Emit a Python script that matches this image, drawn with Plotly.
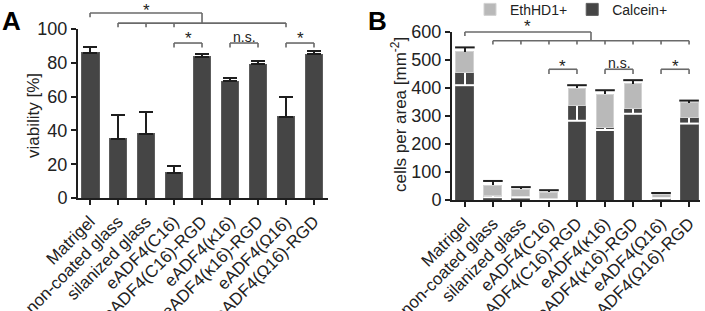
import plotly.graph_objects as go

categories = ["Matrigel", "non-coated glass", "silanized glass", "eADF4(C16)",
              "eADF4(C16)-RGD", "eADF4(κ16)", "eADF4(κ16)-RGD", "eADF4(Ω16)", "eADF4(Ω16)-RGD"]

# Panel A: viability [%]
viability = [86, 35, 38, 15, 83.5, 69, 79, 48, 85]
viability_err = [3.5, 14, 13, 4, 1.5, 2, 2, 12, 2]

# Panel B: cells per area
calcein = [457, 15, 13, 3, 337, 258, 328, 10, 295]
calcein_err = [47, 5, 4, 1, 54, 8, 20, 4, 22]
ethhd = [73, 38, 25, 25, 63, 120, 87, 11, 52]
ethhd_err = [15, 15, 8, 7, 10, 14, 13, 4, 8]

W, H = 705, 311
DARK = "#454545"
LIGHT = "#b9b9b9"
AX = "#1e1e1e"
BR = "#6a6a6a"
FONT = "Liberation Sans, Arial, sans-serif"

xdomA = [78 / W, 328 / W]
ydomA = [113 / H, 282 / H]
xrA = [-0.43, 8.5]
yrA = [0, 100]
xdomB = [452 / W, 700 / W]
ydomB = [111 / H, 279 / H]
xrB = [-0.46, 8.39]
yrB = [0, 600]


def px(i, dom, r):
    return dom[0] + (i - r[0]) / (r[1] - r[0]) * (dom[1] - dom[0])


def py(v, dom, r):
    return dom[0] + (v - r[0]) / (r[1] - r[0]) * (dom[1] - dom[0])


fig = go.Figure()

fig.add_trace(go.Bar(
    x=categories, y=viability, xaxis="x", yaxis="y", width=0.64,
    marker=dict(color=DARK, line=dict(color="#5c5c5c", width=1)),
    error_y=dict(type="data", array=viability_err, arrayminus=[0] * 9, symmetric=False,
                 color=AX, thickness=2, width=7),
    showlegend=False))

fig.add_trace(go.Bar(
    x=categories, y=calcein, xaxis="x2", yaxis="y2", width=0.64, name="Calcein+",
    marker=dict(color=DARK, line=dict(color="#5c5c5c", width=1)),
    error_y=dict(type="data", array=[0] * 9, arrayminus=calcein_err, symmetric=False,
                 color="white", thickness=2, width=0)))
fig.add_trace(go.Bar(
    x=categories, y=ethhd, xaxis="x2", yaxis="y2", width=0.64, name="EthHD1+",
    marker=dict(color=LIGHT, line=dict(color="#d2d2d2", width=1)),
    error_y=dict(type="data", array=ethhd_err, arrayminus=[0] * 9, symmetric=False,
                 color=AX, thickness=2, width=0)))

# error-bar caps (one end only, as in the reference)
calcein_low = [c - e for c, e in zip(calcein, calcein_err)]
total_high = [c + t + e for c, t, e in zip(calcein, ethhd, ethhd_err)]
fig.add_trace(go.Scatter(
    x=categories, y=calcein_low, xaxis="x2", yaxis="y2", mode="markers", showlegend=False,
    hoverinfo="skip",
    marker=dict(symbol="line-ew", size=14, line=dict(color="white", width=2))))
fig.add_trace(go.Scatter(
    x=categories, y=total_high, xaxis="x2", yaxis="y2", mode="markers", showlegend=False,
    hoverinfo="skip", cliponaxis=False,
    marker=dict(symbol="line-ew", size=14, line=dict(color=AX, width=2))))

shapes = []
annotations = []


def line(x0, y0, x1, y1, dx, dy, rx, ry):
    shapes.append(dict(type="line", xref="paper", yref="paper",
                       x0=px(x0, dx, rx), y0=py(y0, dy, ry),
                       x1=px(x1, dx, rx), y1=py(y1, dy, ry),
                       line=dict(color=BR, width=1.6)))


def label(text, x, y, dx, dy, rx, ry, size):
    annotations.append(dict(text=text, xref="paper", yref="paper",
                            x=px(x, dx, rx), y=py(y, dy, ry), showarrow=False,
                            yshift=-4 if text == "*" else 0,
                            font=dict(size=size, color="#222", family=FONT),
                            xanchor="center", yanchor="middle"))


def pair(i, j, ytop, ybot, text, ty, dx, dy, rx, ry, size):
    line(i, ytop, j, ytop, dx, dy, rx, ry)
    line(i, ytop, i, ybot, dx, dy, rx, ry)
    line(j, ytop, j, ybot, dx, dy, rx, ry)
    label(text, (i + j) / 2, ty, dx, dy, rx, ry, size)


# Panel A brackets
a = (xdomA, ydomA, xrA, yrA)
line(0, 109.5, 4, 109.5, *a)
line(0, 109.5, 0, 107, *a)
line(4, 109.5, 4, 103.5, *a)
line(1, 103.5, 7, 103.5, *a)
for t in [1, 2, 3, 7]:
    line(t, 103.5, t, 101, *a)
label("*", 2, 113.5, *a, 17)
pair(3, 4, 91.7, 89, "*", 96.5, *a, 17)
pair(5, 6, 91.7, 89, "n.s.", 95.5, *a, 14)
pair(7, 8, 91.7, 89, "*", 96.5, *a, 17)

# Panel B brackets
b = (xdomB, ydomB, xrB, yrB)
line(0, 600, 4.5, 600, *b)
line(0, 600, 0, 586, *b)
line(4.5, 600, 4.5, 569, *b)
line(1, 569, 8, 569, *b)
for t in range(1, 9):
    line(t, 569, t, 555, *b)
label("*", 2.25, 634, *b, 17)
pair(3, 4, 467, 450, "*", 492, *b, 17)
pair(5, 6, 467, 450, "n.s.", 488, *b, 14)
pair(7, 8, 467, 450, "*", 492, *b, 17)

# axis titles
annotations.append(dict(text="viability [%]", xref="paper", yref="paper",
                        x=33 / W, y=1 - 116 / H, textangle=-90, showarrow=False,
                        xanchor="center", yanchor="middle",
                        font=dict(size=17, color="#222", family=FONT)))
annotations.append(dict(text="cells per area [mm<sup>-2</sup>]", xref="paper", yref="paper",
                        x=399 / W, y=1 - 115 / H, textangle=-90, showarrow=False,
                        xanchor="center", yanchor="middle",
                        font=dict(size=17, color="#222", family=FONT)))

# panel letters
annotations.append(dict(text="<b>A</b>", xref="paper", yref="paper", x=0.0, y=1 - 4 / H,
                        xanchor="left", yanchor="top", showarrow=False,
                        font=dict(size=26, color="black", family=FONT)))
annotations.append(dict(text="<b>B</b>", xref="paper", yref="paper", x=366 / W, y=1 - 4 / H,
                        xanchor="left", yanchor="top", showarrow=False,
                        font=dict(size=26, color="black", family=FONT)))

xcommon = dict(type="category", showline=True, linecolor=AX, linewidth=2, ticks="outside",
               ticklen=5, tickwidth=2, tickcolor=AX, tickangle=-45, automargin=False,
               tickfont=dict(size=17, color="#222", family=FONT), showgrid=False, zeroline=False)
ycommon = dict(showline=True, linecolor=AX, linewidth=2, ticks="outside", ticklen=5,
               tickwidth=2, tickcolor=AX, tickfont=dict(size=18, color="#222", family=FONT),
               showgrid=False, zeroline=False, automargin=False)

fig.update_layout(
    width=W, height=H, margin=dict(l=0, r=0, t=0, b=0, autoexpand=False),
    paper_bgcolor="white", plot_bgcolor="white", barmode="stack",
    font=dict(family=FONT, color="#222"),
    xaxis=dict(domain=xdomA, range=xrA, anchor="y", **xcommon),
    yaxis=dict(domain=ydomA, range=yrA, dtick=20, anchor="x", **ycommon),
    xaxis2=dict(domain=xdomB, range=xrB, anchor="y2", **xcommon),
    yaxis2=dict(domain=ydomB, range=yrB, dtick=100, anchor="x2", **ycommon),
    legend=dict(orientation="h", x=470 / W, y=1.02, xanchor="left", yanchor="top",
                traceorder="reversed", font=dict(size=14, color="#222", family=FONT),
                bgcolor="rgba(0,0,0,0)"),
    shapes=shapes, annotations=annotations,
)

fig.write_html("out.html", config={"displayModeBar": False},
               post_script="document.body.style.margin='0';document.body.style.padding='0';")
